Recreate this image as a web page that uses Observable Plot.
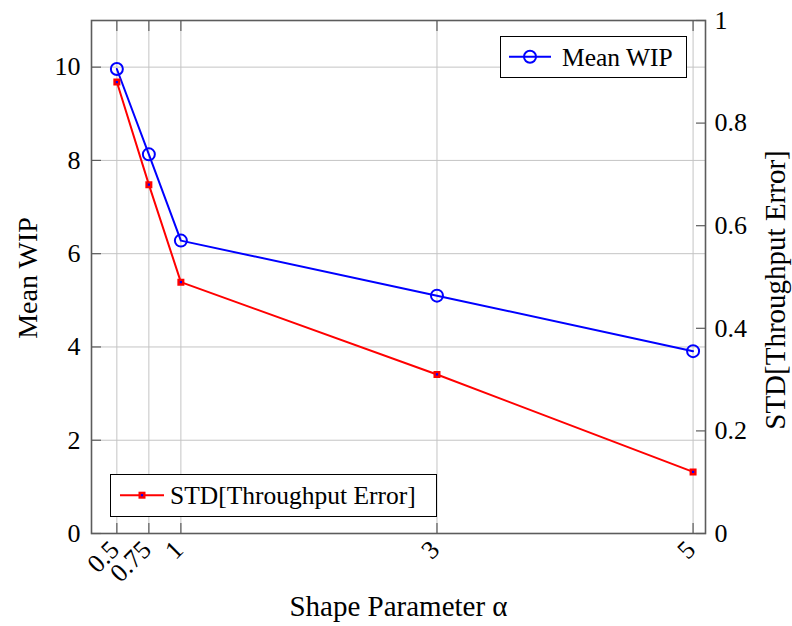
<!DOCTYPE html>
<html><head><meta charset="utf-8">
<script src="https://cdn.jsdelivr.net/npm/d3@7"></script>
<script src="https://cdn.jsdelivr.net/npm/@observablehq/plot@0.6"></script>
<style>
body{margin:0;background:#fff;}
#wrap{position:relative;width:792px;height:626px;font-family:"Liberation Serif",serif;}
.leg{position:absolute;border:1.3px solid #000;background:#fff;box-sizing:border-box;font-size:25.5px;}
.leg svg{position:absolute;left:0;top:0;}
.leg span{position:absolute;white-space:nowrap;line-height:1;}
</style></head><body><div id="wrap"></div>
<script>
const alpha = [0.5, 0.75, 1, 3, 5];
const meanWIP = [9.96, 8.13, 6.28, 5.1, 3.91];
const stdErr = [0.88, 0.68, 0.49, 0.31, 0.12];
const xTicks = [0.5, 0.75, 1, 3, 5];
const xTickLabels = ["0.5", "0.75", "1", "3", "5"];
const leftTicks = [0, 2, 4, 6, 8, 10];
const rightTicks = [0, 0.2, 0.4, 0.6, 0.8, 1];
const leftDomain = [0, 11];
const rightDomain = [0, 1];
const xDomain = [0.302, 5.097];
const xLabel = "Shape Parameter \u03B1";
const yLeftLabel = "Mean WIP";
const yRightLabel = "STD[Throughput Error]";
const seriesNames = ["Mean WIP", "STD[Throughput Error]"];

const k = leftDomain[1] / rightDomain[1];
const wip = alpha.map((a, i) => ({a, v: meanWIP[i]}));
const std = alpha.map((a, i) => ({a, v: stdErr[i] * k}));
const rightTickPos = rightTicks.map(t => t * k);

const gridColor = "#c4c4c4";
const axisColor = "#5c5c5c";

const plot = Plot.plot({
  width: 792, height: 626,
  marginLeft: 91, marginRight: 87, marginTop: 20, marginBottom: 93,
  style: {fontFamily: "Liberation Serif, serif", fontSize: "26px", background: "white", color: "#000"},
  x: {domain: xDomain, label: null},
  y: {domain: leftDomain, label: null},
  marks: [
    Plot.gridX(xTicks, {stroke: gridColor, strokeOpacity: 1, strokeWidth: 1}),
    Plot.gridY(leftTicks, {stroke: gridColor, strokeOpacity: 1, strokeWidth: 1}),
    Plot.axisY(leftTicks, {anchor: "left", tickSize: -10, text: null, label: null, stroke: axisColor, strokeWidth: 1.2}),
    Plot.axisY(leftTicks, {anchor: "left", tickSize: 0, tickPadding: 11, fontSize: 26, label: null}),
    Plot.axisY(rightTickPos, {anchor: "right", tickSize: -10, text: null, label: null, stroke: axisColor, strokeWidth: 1.2}),
    Plot.axisY(rightTickPos, {anchor: "right", tickSize: 0, tickPadding: 9, fontSize: 26, label: null,
      tickFormat: d => String(+(d / k).toFixed(2))}),
    Plot.axisX(xTicks, {anchor: "bottom", tickSize: -10, text: null, label: null, stroke: axisColor, strokeWidth: 1.2}),
    Plot.axisX(xTicks, {anchor: "top", tickSize: -10, text: null, label: null, stroke: axisColor, strokeWidth: 1.2}),
    Plot.text(xTicks, {x: d => d, frameAnchor: "bottom", text: (d, i) => xTickLabels[i],
      rotate: -45, textAnchor: "end", lineAnchor: "middle", dx: -2, dy: 12, fontSize: 26}),
    Plot.frame({stroke: axisColor, strokeWidth: 1.6}),
    Plot.line(wip, {x: "a", y: "v", stroke: "#0000ff", strokeWidth: 2}),
    Plot.dot(wip, {x: "a", y: "v", r: 6, stroke: "#0000ff", strokeWidth: 2, fill: "none"}),
    Plot.line(std, {x: "a", y: "v", stroke: "#ff0000", strokeWidth: 2}),
    Plot.dot(std, {x: "a", y: "v", symbol: "square", r: 2.6, fill: "#0000ff", stroke: "#ff0000", strokeWidth: 2.4}),
    Plot.text([yLeftLabel], {frameAnchor: "left", text: d => d, rotate: -90, textAnchor: "middle", lineAnchor: "middle", dx: -63, dy: 1, fontSize: 28}),
    Plot.text([yRightLabel], {frameAnchor: "right", text: d => d, rotate: -90, textAnchor: "middle", lineAnchor: "middle", dx: 70, dy: 13, fontSize: 29}),
    Plot.text([xLabel], {frameAnchor: "bottom", text: d => d, textAnchor: "middle", lineAnchor: "middle", dy: 73, fontSize: 29})
  ]
});
const wrap = document.getElementById("wrap");
wrap.appendChild(plot);

function legend(left, top, w, h, kind, name) {
  const d = document.createElement("div");
  d.className = "leg";
  Object.assign(d.style, {left: left + "px", top: top + "px", width: w + "px", height: h + "px"});
  const cy = h / 2 - 1.3;
  let sym;
  if (kind === "circle") {
    sym = `<line x1="8" x2="50" y1="${cy}" y2="${cy}" stroke="#0000ff" stroke-width="2"/>
      <circle cx="29" cy="${cy}" r="6" fill="none" stroke="#0000ff" stroke-width="2"/>`;
  } else {
    sym = `<line x1="9" x2="53" y1="${cy}" y2="${cy}" stroke="#ff0000" stroke-width="2"/>
      <rect x="${31 - 2.3}" y="${cy - 2.3}" width="4.6" height="4.6" fill="#0000ff" stroke="#ff0000" stroke-width="2.4"/>`;
  }
  d.innerHTML = `<svg width="${w}" height="${h}">${sym}</svg><span style="left:${kind === "circle" ? 61 : 59}px;top:${cy - 12}px">${name}</span>`;
  wrap.appendChild(d);
}
legend(500, 36, 187, 42, "circle", seriesNames[0]);
legend(110, 474, 327, 43, "square", seriesNames[1]);
</script>
</body></html>
